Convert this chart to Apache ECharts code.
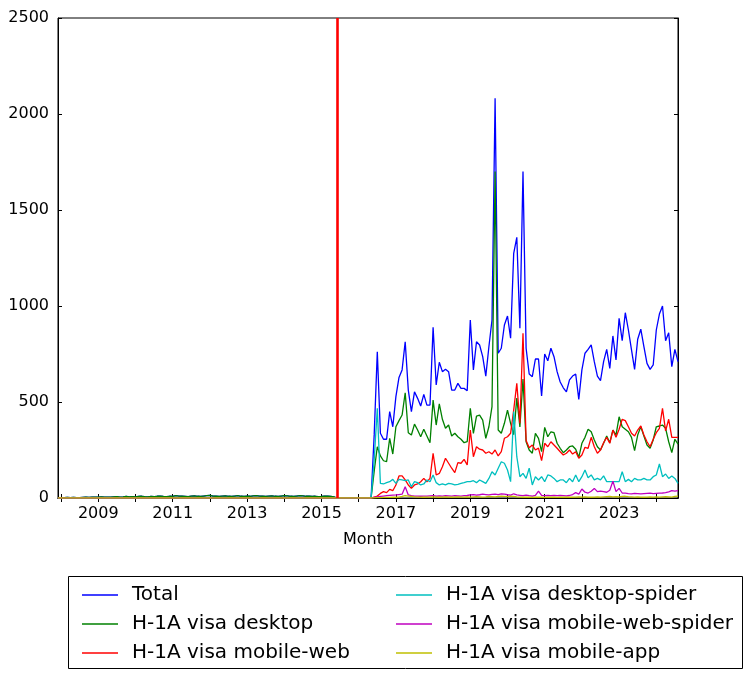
<!DOCTYPE html>
<html>
<head>
<meta charset="utf-8">
<script src="https://cdn.jsdelivr.net/npm/echarts@6/dist/echarts.min.js"></script>
<style>
html, body { margin: 0; padding: 0; background: #fff; }
#chart { width: 751px; height: 679px; }
</style>
</head>
<body>
<div id="chart"></div>
<script>
// monthly data, first month 2007-12, last 2024-08
const startYear = 2007, startMonth = 12;
const markMonth = 2015 + 5 / 12; // red line at 2015-06

const total = [
  1,2,2,3,2,3,2,2,3,4,3,4,
  5,4,6,5,4,5,6,7,5,6,8,6,
  7,6,8,9,7,6,8,7,9,10,8,7,
  9,8,12,10,9,8,7,10,11,9,8,10,
  12,14,10,9,8,10,11,9,8,10,12,9,
  8,10,9,11,12,10,9,8,10,11,9,8,
  10,12,11,9,8,10,12,11,9,10,8,9,
  7,8,10,9,8,6,0,0,0,0,0,0,
  0,0,0,0,0,0,330,762,337,306,306,450,
  371,528,628,667,814,562,450,553,519,479,540,484,
  484,889,589,707,658,671,658,562,562,597,571,571,
  559,927,667,814,797,736,635,788,927,2082,754,780,
  901,948,832,1274,1358,884,1700,780,646,632,724,724,
  531,750,715,780,736,658,604,574,553,615,635,646,
  514,667,754,774,797,710,635,611,710,774,675,844,
  719,936,819,965,875,771,670,827,879,788,701,670,
  693,875,958,1000,819,861,684,774,710
];
const desktop = [
  1,2,2,3,2,3,2,2,3,4,3,4,
  5,4,6,5,4,5,6,7,5,6,8,6,
  7,6,8,9,7,6,8,7,9,10,8,7,
  9,8,12,10,9,8,7,10,11,9,8,10,
  12,14,10,9,8,10,11,9,8,10,12,9,
  8,10,9,11,12,10,9,8,10,11,9,8,
  10,12,11,9,8,10,12,11,9,10,8,9,
  7,8,10,9,8,6,0,0,0,0,0,0,
  0,0,0,0,0,0,140,267,219,194,189,311,
  229,371,403,432,548,340,328,385,354,319,358,323,
  288,510,380,490,410,363,380,323,337,319,306,288,
  293,467,337,427,432,406,311,371,476,1700,354,337,
  389,458,389,330,520,370,620,293,250,233,337,311,
  241,368,319,345,340,285,259,236,250,267,271,254,
  212,285,316,358,345,302,267,250,285,323,288,354,
  328,423,371,358,345,316,247,328,371,323,276,259,
  302,371,375,380,363,293,236,306,281
];
const mobileWeb = [
  0,0,0,0,0,0,0,0,0,0,0,0,
  0,0,0,0,0,0,0,0,0,0,0,0,
  0,0,0,0,0,0,0,0,0,0,0,0,
  0,0,0,0,0,0,0,0,0,0,0,0,
  0,0,0,0,0,0,0,0,0,0,0,0,
  0,0,0,0,0,0,0,0,0,0,0,0,
  0,0,0,0,0,0,0,0,0,0,0,0,
  0,0,0,0,0,0,0,0,0,0,0,0,
  0,0,0,0,0,0,5,10,24,33,28,45,
  38,68,115,115,94,68,50,68,73,85,102,85,
  102,233,120,128,163,207,181,155,132,184,181,201,
  172,354,215,267,254,250,233,241,229,250,219,241,
  311,319,337,458,597,389,858,300,262,276,250,260,
  195,285,267,293,276,259,241,224,233,250,229,241,
  207,224,264,259,316,267,233,250,288,316,285,354,
  316,358,410,403,371,337,323,354,375,328,293,267,
  306,340,363,467,350,410,316,316,316
];
const desktopSpider = [
  0,0,0,0,0,0,0,0,0,0,0,0,
  0,0,0,0,0,0,0,0,0,0,0,0,
  0,0,0,0,0,0,0,0,0,0,0,0,
  0,0,0,0,0,0,0,0,0,0,0,0,
  0,0,0,0,0,0,0,0,0,0,0,0,
  0,0,0,0,0,0,0,0,0,0,0,0,
  0,0,0,0,0,0,0,0,0,0,0,0,
  0,0,0,0,0,0,0,0,0,0,0,0,
  0,0,0,0,0,0,200,467,76,73,80,85,
  97,76,97,94,90,94,59,85,80,68,73,94,
  85,120,80,68,73,68,76,73,68,71,76,80,
  85,85,90,80,94,85,76,102,137,120,155,189,
  181,146,85,450,215,111,128,102,155,68,111,94,
  111,85,120,115,102,85,94,94,80,102,85,120,
  85,111,146,106,120,94,102,94,115,85,85,85,
  85,85,137,85,97,85,102,94,94,102,94,94,
  111,120,177,111,125,102,115,102,76
];
const mobileWebSpider = [
  0,0,0,0,0,0,0,0,0,0,0,0,
  0,0,0,0,0,0,0,0,0,0,0,0,
  0,0,0,0,0,0,0,0,0,0,0,0,
  0,0,0,0,0,0,0,0,0,0,0,0,
  0,0,0,0,0,0,0,0,0,0,0,0,
  0,0,0,0,0,0,0,0,0,0,0,0,
  0,0,0,0,0,0,0,0,0,0,0,0,
  0,0,0,0,0,0,0,0,0,0,0,0,
  0,0,0,0,0,0,3,6,8,10,12,14,
  15,16,18,20,59,16,12,10,10,9,10,10,
  11,12,10,11,10,12,11,10,12,11,10,12,
  13,16,18,15,17,20,18,16,19,20,18,22,
  20,17,15,22,16,14,12,15,12,10,14,36,
  14,12,13,12,14,12,13,12,11,13,18,28,
  20,47,30,26,35,50,33,36,33,30,40,88,
  33,50,26,25,23,22,24,23,22,23,24,25,
  23,24,25,26,28,32,38,36,38
];
const mobileApp = [
  0,0,0,0,0,0,0,0,0,0,0,0,
  0,0,0,0,0,0,0,0,0,0,0,0,
  0,0,0,0,0,0,0,0,0,0,0,0,
  0,0,0,0,0,0,0,0,0,0,0,0,
  0,0,0,0,0,0,0,0,0,0,0,0,
  0,0,0,0,0,0,0,0,0,0,0,0,
  0,0,0,0,0,0,0,0,0,0,0,0,
  0,0,0,0,0,0,0,0,0,0,0,0,
  0,0,0,0,0,0,1,2,2,3,3,3,
  4,4,5,8,12,10,8,6,5,5,4,5,
  5,6,5,4,5,6,5,4,5,6,5,5,
  6,5,6,7,6,5,6,8,7,6,8,9,
  8,7,9,8,6,5,4,5,4,3,4,5,
  4,3,4,5,4,3,4,5,4,5,4,5,
  6,5,6,5,4,5,6,5,6,7,8,6,
  7,6,8,9,7,6,5,6,5,4,5,6,
  5,6,5,6,7,6,5,8,10
];

const seriesNames = ['Total', 'H-1A visa desktop', 'H-1A visa mobile-web',
  'H-1A visa desktop-spider', 'H-1A visa mobile-web-spider', 'H-1A visa mobile-app'];
const seriesValues = [total, desktop, mobileWeb, desktopSpider, mobileWebSpider, mobileApp];
const colors = ['#0000ff', '#008000', '#ff0000', '#00bfbf', '#bf00bf', '#bfbf00'];

const yearTicks = [2008,2009,2010,2011,2012,2013,2014,2015,2016,2017,2018,2019,2020,2021,2022,2023,2024];
const yearLabels = [2009,2011,2013,2015,2017,2019,2021,2023];

const font = 'DejaVu Sans';
const xMin = startYear + (startMonth - 1) / 12;
const xMax = startYear + (startMonth - 1 + total.length - 1) / 12;

function toPoints(values) {
  return values.map((v, i) => [startYear + (startMonth - 1 + i) / 12, v]);
}

const chart = echarts.init(document.getElementById('chart'));

const series = seriesValues.map((vals, k) => ({
  name: seriesNames[k],
  type: 'line',
  data: toPoints(vals),
  symbol: 'none',
  color: colors[k],
  lineStyle: { color: colors[k], width: 1.3 },
  itemStyle: { color: colors[k] },
  xAxisIndex: 0,
  yAxisIndex: 0
}));
series[0].markLine = {
  silent: true,
  symbol: 'none',
  label: { show: false },
  lineStyle: { color: '#ff0000', width: 2.6, type: 'solid' },
  data: [{ xAxis: markMonth }]
};

const legendText = { fontFamily: font, fontSize: 20, color: '#000', lineHeight: 20, padding: [0, 0, 0, 9] };

chart.setOption({
  animation: false,
  backgroundColor: '#fff',
  grid: { left: 58, right: 73, top: 18, bottom: 181, show: true, borderColor: '#000', borderWidth: 1 },
  xAxis: [{
    type: 'value', min: xMin, max: xMax, position: 'bottom',
    name: 'Month', nameLocation: 'middle', nameGap: 34,
    nameTextStyle: { fontFamily: font, fontSize: 16, color: '#000' },
    splitLine: { show: false },
    axisLine: { lineStyle: { color: '#000' } },
    axisTick: { inside: true, length: 4, customValues: yearTicks, lineStyle: { color: '#000' } },
    axisLabel: { customValues: yearLabels, fontFamily: font, fontSize: 16, color: '#000', margin: 8,
      formatter: v => String(v) }
  }, {
    type: 'value', min: xMin, max: xMax, position: 'top',
    splitLine: { show: false },
    axisLine: { lineStyle: { color: '#000' } },
    axisTick: { inside: true, length: 4, customValues: yearTicks, lineStyle: { color: '#000' } },
    axisLabel: { show: false }
  }],
  yAxis: [{
    type: 'value', min: 0, max: 2500, interval: 500, position: 'left',
    splitLine: { show: false },
    axisLine: { show: true, lineStyle: { color: '#000' } },
    axisTick: { show: true, inside: true, length: 4, lineStyle: { color: '#000' } },
    axisLabel: { fontFamily: font, fontSize: 16, color: '#000', margin: 9, formatter: v => String(v) }
  }, {
    type: 'value', min: 0, max: 2500, interval: 500, position: 'right',
    splitLine: { show: false },
    axisLine: { show: true, lineStyle: { color: '#000' } },
    axisTick: { show: true, inside: true, length: 4, lineStyle: { color: '#000' } },
    axisLabel: { show: false }
  }],
  graphic: [{
    type: 'rect', left: 68, top: 576, z: 0,
    shape: { width: 674, height: 92 },
    style: { fill: '#fff', stroke: '#000', lineWidth: 1 }
  }],
  legend: [{
    data: seriesNames.slice(0, 3), orient: 'vertical', left: 82, top: 585, padding: 0,
    itemWidth: 36, itemHeight: 1.5, itemGap: 9, icon: 'rect', z: 5,
    textStyle: legendText
  }, {
    data: seriesNames.slice(3), orient: 'vertical', left: 396, top: 585, padding: 0,
    itemWidth: 36, itemHeight: 1.5, itemGap: 9, icon: 'rect', z: 5,
    textStyle: legendText
  }],
  series: series
});
</script>
</body>
</html>
